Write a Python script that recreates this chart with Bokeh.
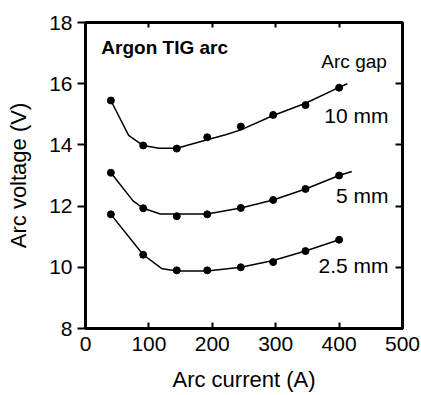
from bokeh.plotting import figure
from bokeh.models import Range1d, LinearAxis, FixedTicker
from bokeh.core.properties import value
from bokeh.embed import file_html
from bokeh.resources import INLINE

# measured points
current_pts = [40, 91, 144, 192, 245, 296, 347, 400]
v_10mm = [15.45, 13.98, 13.88, 14.25, 14.60, 14.98, 15.30, 15.87]
v_5mm = [13.09, 11.93, 11.67, 11.73, 11.94, 12.20, 12.56, 13.00]
v_25mm = [11.73, 10.41, 9.90, 9.90, 10.00, 10.17, 10.53, 10.90]

# fitted curves
fit10_x = [40, 68, 91, 116, 144, 192, 221, 245, 296, 347, 400, 413]
fit10_y = [15.45, 14.31, 13.98, 13.89, 13.89, 14.17, 14.33, 14.49, 14.96, 15.36, 15.88, 16.00]
fit5_x = [40, 75, 91, 118, 192, 245, 296, 347, 400, 420]
fit5_y = [13.09, 12.17, 11.93, 11.74, 11.74, 11.94, 12.20, 12.56, 13.00, 13.13]
fit25_x = [40, 91, 121, 145, 192, 245, 296, 347, 400]
fit25_y = [11.73, 10.41, 9.95, 9.88, 9.88, 10.00, 10.22, 10.53, 10.90]

x_ticks = [0, 100, 200, 300, 400, 500]
y_ticks = [8, 10, 12, 14, 16, 18]

series_labels = ["10 mm", "5 mm", "2.5 mm"]
series_label_y = [14.96, 12.35, 10.06]

FONT = "Liberation Sans"

p = figure(width=421, height=395, output_backend="svg", toolbar_location=None,
           x_range=Range1d(0, 500), y_range=Range1d(8, 18),
           min_border_left=85, min_border_right=19, min_border_top=22, min_border_bottom=67)
p.background_fill_color = "white"
p.border_fill_color = "white"
p.grid.visible = False
p.outline_line_color = "black"
p.outline_line_width = 3

def style_axis(ax, tin, tout, labels=True):
    ax.axis_line_color = None
    ax.major_tick_line_color = "black"
    ax.major_tick_line_width = 2
    ax.major_tick_in = tin
    ax.major_tick_out = tout
    ax.minor_tick_line_color = None
    ax.major_label_text_font = FONT
    ax.major_label_text_font_size = "21px"
    ax.major_label_text_color = "black"
    ax.axis_label_text_font = FONT
    ax.axis_label_text_font_size = "22px"
    ax.axis_label_text_font_style = "normal"
    ax.axis_label_text_color = "black"
    if not labels:
        ax.major_label_text_font_size = "0px"
        ax.major_label_text_color = None

xa = p.xaxis[0]
xa.ticker = FixedTicker(ticks=x_ticks)
style_axis(xa, 6, 0)
xa.major_label_standoff = 8
xa.axis_label = "Arc current (A)"
xa.axis_label_standoff = 13

ya = p.yaxis[0]
ya.ticker = FixedTicker(ticks=y_ticks)
style_axis(ya, 0, 8)
ya.major_label_standoff = 5
ya.axis_label = "Arc voltage (V)"
ya.axis_label_standoff = 15

top = LinearAxis(ticker=FixedTicker(ticks=x_ticks))
style_axis(top, 5, 0, labels=False)
p.add_layout(top, "above")
right = LinearAxis(ticker=FixedTicker(ticks=y_ticks))
style_axis(right, 7, 0, labels=False)
p.add_layout(right, "right")

for fx, fy, vy in [(fit10_x, fit10_y, v_10mm), (fit5_x, fit5_y, v_5mm), (fit25_x, fit25_y, v_25mm)]:
    p.line(fx, fy, line_color="black", line_width=1.5)
    p.scatter(current_pts, vy, size=7, marker="circle", fill_color="black", line_color="black")

p.text(x=[478, 478, 478], y=series_label_y, text=series_labels,
       text_font=value(FONT), text_font_size="21px", text_align="right",
       text_baseline="middle", text_color="black")
p.text(x=[372], y=[16.73], text=["Arc gap"], text_font=value(FONT), text_font_size="19px",
       text_align="left", text_baseline="middle", text_color="black")
p.text(x=[25], y=[17.19], text=["Argon TIG arc"], text_font=value(FONT), text_font_size="19px",
       text_font_style="bold", text_align="left", text_baseline="middle", text_color="black")

open("out.html", "w").write(file_html(p, INLINE))
